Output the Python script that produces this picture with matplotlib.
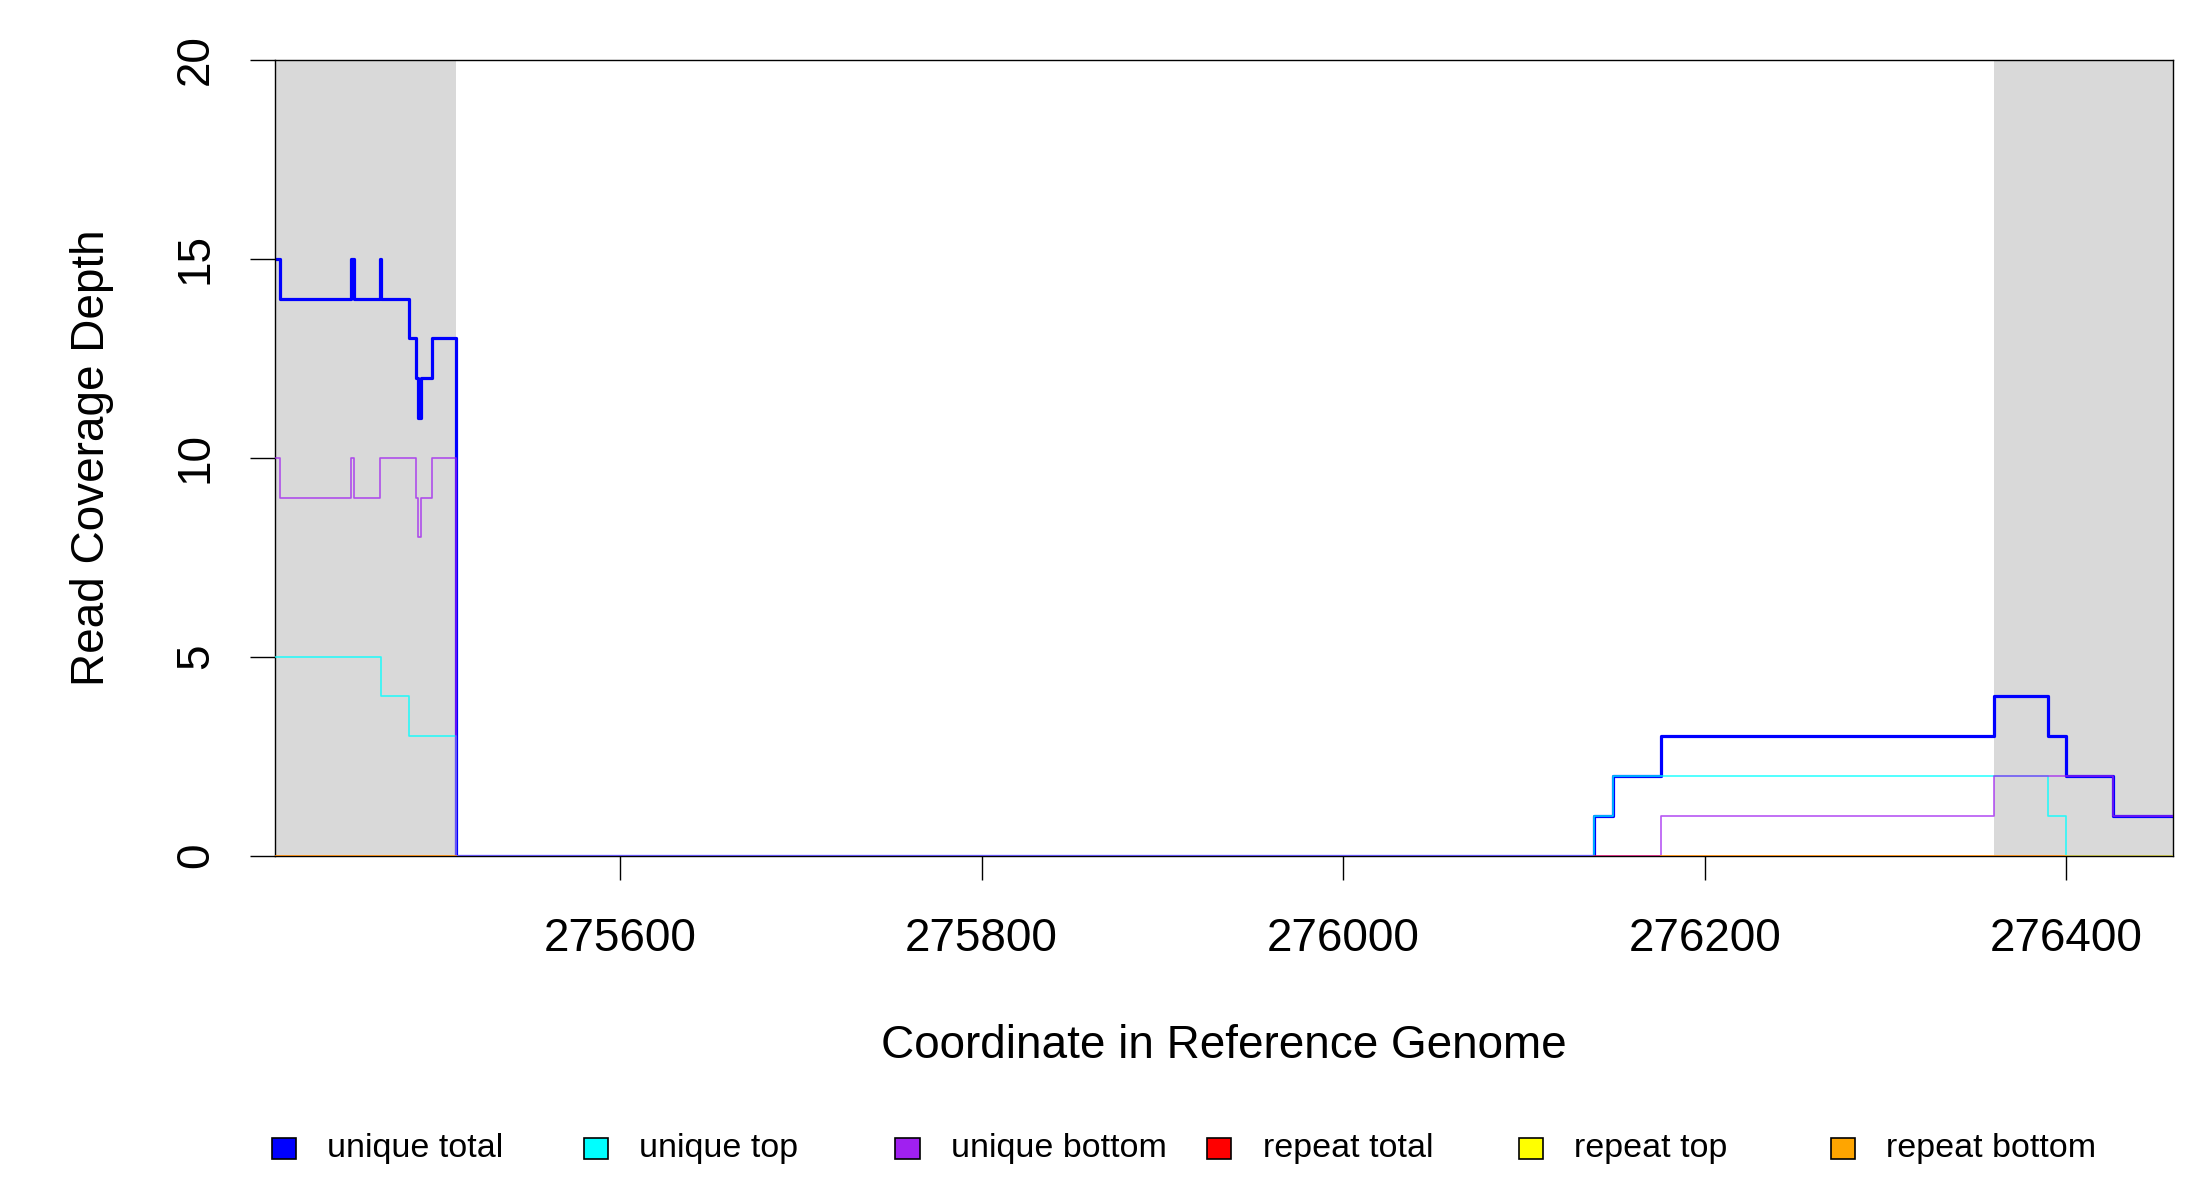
import matplotlib
matplotlib.use("Agg")
import matplotlib.pyplot as plt
from matplotlib.patches import Rectangle
import numpy as np

plt.rcParams['font.family'] = ['Liberation Sans', 'DejaVu Sans']

# coverage steps: change points and the depth that starts there
total_x = [275409, 275412, 275451, 275453, 275467, 275468, 275483, 275487, 275488,
           275490, 275496, 275509, 276139, 276149, 276176, 276360, 276390, 276400,
           276426, 276459]
total_y = [15, 14, 15, 14, 15, 14, 13, 12, 11, 12, 13, 0, 1, 2, 3, 4, 3, 2, 1, 1]

top_x = [275409, 275468, 275483, 275509, 276139, 276149, 276390, 276400, 276459]
top_y = [5, 4, 3, 0, 1, 2, 1, 0, 0]

bottom_x = [275409, 275412, 275451, 275453, 275467, 275487, 275488, 275490, 275496,
            275509, 276176, 276360, 276426, 276459]
bottom_y = [10, 9, 10, 9, 10, 9, 8, 9, 10, 0, 1, 2, 1, 1]

# repeat coverage is zero wherever it is reported
rep_total_x = [275409, 275509, np.nan, 276139, 276459]
rep_total_y = [0, 0, np.nan, 0, 0]
rep_top_x = [276400, 276459]
rep_top_y = [0, 0]
rep_bottom_x = [275409, 275509, np.nan, 276176, 276400]
rep_bottom_y = [0, 0, np.nan, 0, 0]

flank_regions = [(275409, 275509), (276360, 276459)]
x_range = (275409, 276459)
x_ticks = [275600, 275800, 276000, 276200, 276400]
y_ticks = [0, 5, 10, 15, 20]

legend_labels = ['unique total', 'unique top', 'unique bottom',
                 'repeat total', 'repeat top', 'repeat bottom']
legend_colors = ['#0000FF', '#00FFFF', '#A020F0', '#FF0000', '#FFFF00', '#FFA500']

fig = plt.figure(figsize=(22, 12), dpi=100)
ax = fig.add_axes([0.1249, 0.287, 0.8628, 0.663])

for lo, hi in flank_regions:
    ax.axvspan(lo, hi, color='#D9D9D9', lw=0, zorder=0)

ax.step(total_x, total_y, where='post', color='#0000FF', lw=2.3, zorder=2)
ax.step(top_x, top_y, where='post', color='#00FFFF', lw=1.2, alpha=0.8, zorder=3)
ax.step(bottom_x, bottom_y, where='post', color='#A020F0', lw=1.2, alpha=0.75, zorder=4)
ax.step(rep_total_x, rep_total_y, where='post', color='#FF0000', lw=1.2, alpha=0.5, zorder=5)
ax.step(rep_top_x, rep_top_y, where='post', color='#FFFF00', lw=1.2, alpha=0.5, zorder=6)
ax.step(rep_bottom_x, rep_bottom_y, where='post', color='#FFA500', lw=1.2, alpha=0.8, zorder=7)

ax.set_xlim(*x_range)
ax.set_ylim(0, 20)
ax.set_xticks(x_ticks)
ax.set_xticklabels([str(t) for t in x_ticks], fontsize=33)
ax.set_yticks(y_ticks)
ax.set_yticklabels([str(t) for t in y_ticks], fontsize=33, rotation=90, va='center')
ax.tick_params(axis='x', length=17, width=1.0, pad=27)
ax.tick_params(axis='y', length=18, width=1.0, pad=23)
for s in ax.spines.values():
    s.set_linewidth(1.0)

ax.set_xlabel('Coordinate in Reference Genome', fontsize=33, va='center')
ax.xaxis.set_label_coords(0.5, -0.2397)
ax.set_ylabel('Read Coverage Depth', fontsize=33, va='center')
ax.yaxis.set_label_coords(-0.0965, 0.5)

# horizontal legend below the plot, evenly spaced like R's legend
x0, step = 0.1291, 0.1417
for i, (lab, col) in enumerate(zip(legend_labels, legend_colors)):
    cx = x0 + i * step
    fig.patches.append(Rectangle((cx - 0.0055, 0.043 - 0.0089), 0.011, 0.0178,
                                 transform=fig.transFigure, facecolor=col,
                                 edgecolor='black', lw=1.2))
    fig.text(cx + 0.0197, 0.043, lab, fontsize=24.5, va='center', ha='left')

fig.savefig('out.png', dpi=100)
